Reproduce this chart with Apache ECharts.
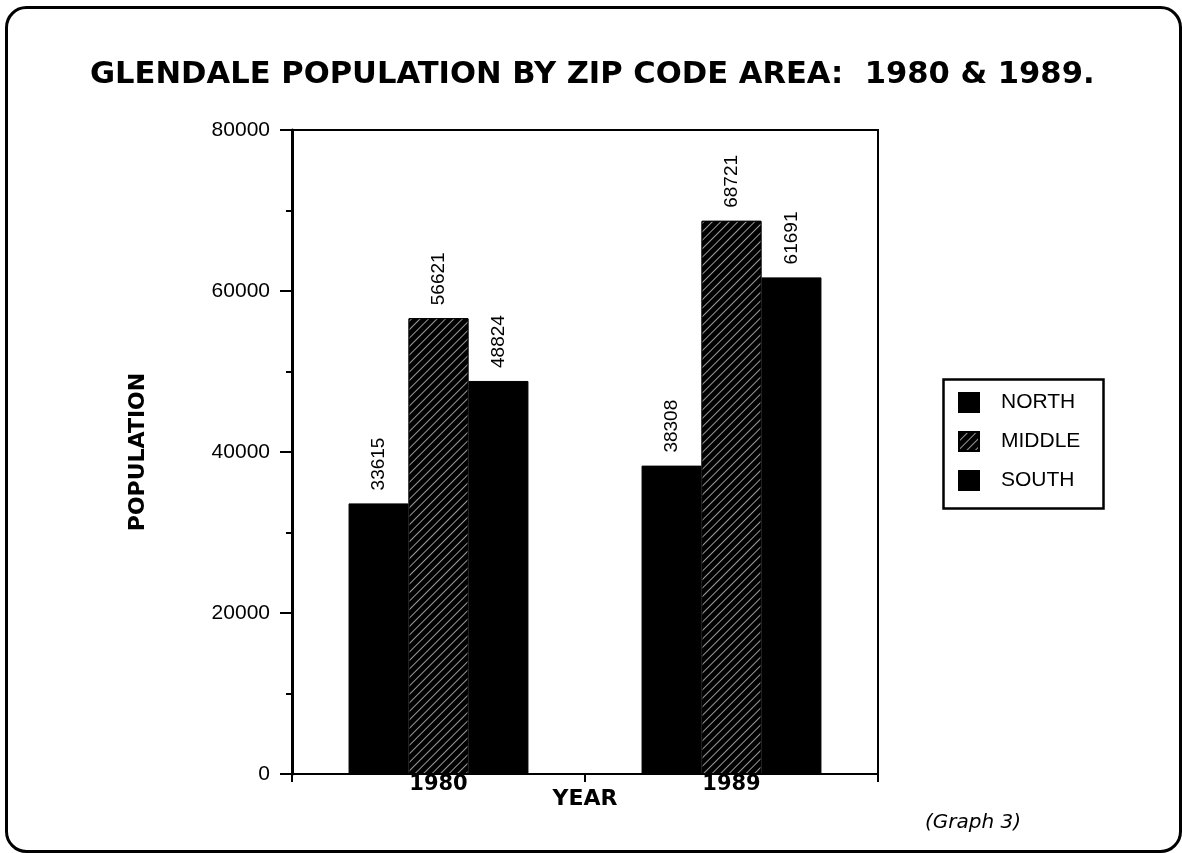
<!DOCTYPE html>
<html><head><meta charset="utf-8">
<script src="https://cdn.jsdelivr.net/npm/echarts@6/dist/echarts.min.js"></script>
<style>html,body{margin:0;padding:0;background:#fff}#c{width:1182px;height:853px}</style>
</head><body><div id="c"></div>
<script>
const categories = ['1980', '1989'];
const north = [33615, 38308];
const middle = [56621, 68721];
const south = [48824, 61691];
const seriesNames = ['NORTH', 'MIDDLE', 'SOUTH'];
const yTicks = [0, 20000, 40000, 60000, 80000];

const chart = echarts.init(document.getElementById('c'));
const font = '"Liberation Sans", Arial, sans-serif';
const wide = '"DejaVu Sans", Verdana, sans-serif';
const lbl = {
  show: true, position: 'top', rotate: 90, align: 'left', verticalAlign: 'middle',
  distance: 13, color: '#000', fontSize: 19, fontFamily: font
};
function mk(name, data, decal) {
  return {
    name, type: 'bar', data, barGap: '0%', barCategoryGap: '38.6%',
    itemStyle: { color: '#000', borderColor: '#000', borderWidth: 1, decal: decal },
    label: lbl, emphasis: { disabled: true }
  };
}
chart.setOption({
  animation: false,
  backgroundColor: '#fff',
  title: {
    text: 'GLENDALE POPULATION BY ZIP CODE AREA:  1980 & 1989.',
    left: 90, top: 60, padding: 0,
    textStyle: { fontFamily: wide, fontWeight: 'bold', fontSize: 30.6, color: '#000' }
  },
  grid: { left: 292, right: 304, top: 130, bottom: 79, show: true, borderColor: '#000', borderWidth: 2, backgroundColor: 'transparent' },
  legend: {
    orient: 'vertical', left: 958, top: 392, itemWidth: 20, itemHeight: 19, itemGap: 18,
    padding: 0, data: seriesNames, icon: 'rect',
    textStyle: { fontFamily: font, fontSize: 21, color: '#000', padding: [0, 0, 0, 17] }
  },
  xAxis: {
    type: 'category', data: categories, name: 'YEAR', nameLocation: 'middle', nameGap: 25,
    nameMoveOverlap: false,
    nameTextStyle: { fontFamily: wide, fontWeight: 'bold', fontSize: 22, color: '#000', verticalAlign: 'middle' },
    axisLine: { lineStyle: { color: '#000', width: 2 } },
    axisTick: { show: true, length: 8, lineStyle: { color: '#000', width: 2 } },
    axisLabel: { fontFamily: wide, fontWeight: 'bold', fontSize: 21, color: '#000', margin: 0 }
  },
  yAxis: {
    type: 'value', min: 0, max: 80000, interval: 20000,
    name: 'POPULATION', nameLocation: 'middle', nameGap: 143, nameRotate: 90,
    nameMoveOverlap: false,
    nameTextStyle: { fontFamily: wide, fontWeight: 'bold', fontSize: 22, color: '#000' },
    axisLine: { show: true, lineStyle: { color: '#000', width: 3 } },
    axisTick: { show: true, length: 12, lineStyle: { color: '#000', width: 2 } },
    minorTick: { show: true, splitNumber: 2, length: 6, lineStyle: { color: '#000', width: 2 } },
    splitLine: { show: false },
    axisLabel: { fontFamily: font, fontSize: 21, color: '#000', margin: 22,
      formatter: v => yTicks.includes(v) ? String(v) : '' }
  },
  graphic: [
    { type: 'rect', left: 4, top: 5, shape: { width: 1174, height: 844, r: 20 },
      style: { fill: 'none', stroke: '#000', lineWidth: 3 }, silent: true },
    { type: 'rect', left: 941, top: 377, shape: { width: 160, height: 129 },
      style: { fill: 'none', stroke: '#000', lineWidth: 2.5 }, silent: true },
    { type: 'text', left: 925, top: 813,
      style: { text: '(Graph 3)', font: 'italic 20px "DejaVu Sans", Verdana, sans-serif', fill: '#000' } }
  ],
  series: [
    mk(seriesNames[0], north, null),
    mk(seriesNames[1], middle, { symbol: 'rect', symbolSize: 1, dashArrayX: [1, 0], dashArrayY: [1, 5], rotation: -Math.PI / 4, color: 'rgba(255,255,255,0.6)' }),
    mk(seriesNames[2], south, null)
  ]
});
</script></body></html>
